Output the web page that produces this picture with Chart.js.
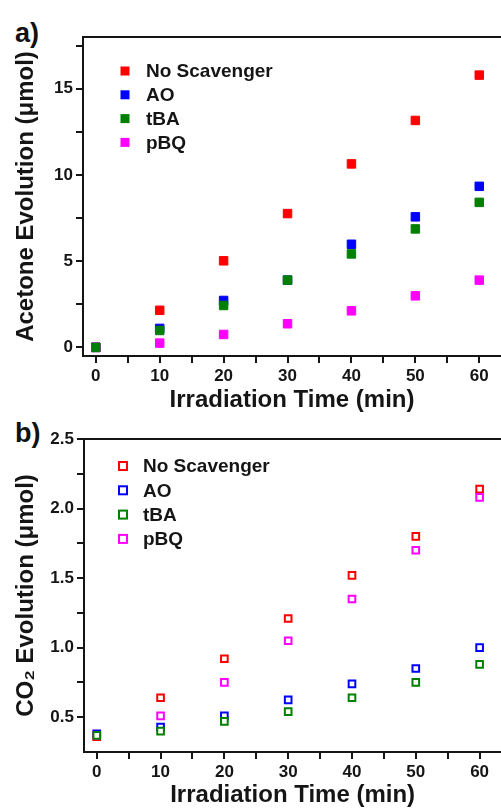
<!DOCTYPE html>
<html>
<head>
<meta charset="utf-8">
<script src="https://cdn.jsdelivr.net/npm/chart.js@4.4.1/dist/chart.umd.min.js"></script>
<style>
  html, body { margin: 0; padding: 0; background: #fff; overflow: hidden; }
  body { width: 501px; height: 809px; position: relative; font-family: Arial, "Liberation Sans", sans-serif; }
  .panel { position: absolute; left: 0; width: 508px; }
  .tag { position: absolute; font-weight: bold; font-size: 27px; color: #111; line-height: 1; }
</style>
</head>
<body>
<div class="tag" style="left:15px; top:20px;">a)</div>
<div class="tag" style="left:15px; top:420px;">b)</div>
<div class="panel" style="top:0; height:414px;"><canvas id="chartA"></canvas></div>
<div class="panel" style="top:410px; height:399px;"><canvas id="chartB"></canvas></div>
<script>
// data
const times = [0, 10, 20, 30, 40, 50, 60];
const seriesNames = ['No Scavenger', 'AO', 'tBA', 'pBQ'];
const seriesColors = ['#ff0000', '#0000ff', '#008000', '#ff00ff'];

// a) acetone (µmol)
const acetoneNoScav = [0, 2.15, 5.02, 7.76, 10.64, 13.16, 15.79];
const acetoneAO     = [0, 1.10, 2.72, 3.90, 5.98, 7.57, 9.34];
const acetoneTBA    = [0, 0.98, 2.43, 3.90, 5.42, 6.87, 8.41];
const acetonePBQ    = [0, 0.25, 0.75, 1.37, 2.12, 2.99, 3.90];

// b) CO2 (µmol)
const co2NoScav = [0.36, 0.64, 0.92, 1.21, 1.52, 1.80, 2.14];
const co2AO     = [0.38, 0.43, 0.51, 0.625, 0.74, 0.85, 1.00];
const co2TBA    = [0.37, 0.40, 0.47, 0.54, 0.64, 0.75, 0.88];
const co2PBQ    = [0.37, 0.51, 0.75, 1.05, 1.35, 1.70, 2.08];

// tick values (labels only on the major ones)
const xTicks = [0, 5, 10, 15, 20, 25, 30, 35, 40, 45, 50, 55, 60];
const acetoneTicks = [0, 2.5, 5, 7.5, 10, 12.5, 15, 17.5];
const co2Ticks = [0.5, 0.75, 1.0, 1.25, 1.5, 1.75, 2.0, 2.25, 2.5];

// green drawn on top, red at the bottom
const drawOrder = [3, 2, 0, 1];

const ink = '#151515';
const tickFont = { family: 'Arial, "Liberation Sans", sans-serif', size: 17, weight: 'bold' };
const titleFont = { family: 'Arial, "Liberation Sans", sans-serif', size: 24, weight: 'bold', lineHeight: 1 };

function makeSets(lists, hollow) {
  return lists.map((vals, i) => ({
    label: seriesNames[i],
    data: times.map((t, k) => ({ x: t, y: vals[k] })),
    pointStyle: 'rect',
    pointRadius: hollow ? 4.7 : 6,
    pointHoverRadius: hollow ? 4.7 : 6,
    borderWidth: hollow ? 2 : 1,
    borderColor: seriesColors[i],
    backgroundColor: hollow ? '#ffffff' : seriesColors[i],
    order: drawOrder[i]
  }));
}

// legend inside the plot + top frame line
const framePlugin = {
  id: 'frame',
  afterDraw(chart, args, opts) {
    const { ctx, chartArea } = chart;
    ctx.save();
    ctx.strokeStyle = ink;
    ctx.lineWidth = 2;
    ctx.beginPath();
    ctx.moveTo(chartArea.left, chartArea.top);
    ctx.lineTo(chartArea.right, chartArea.top);
    ctx.stroke();

    const lg = opts.legend;
    ctx.font = 'bold 19px Arial, "Liberation Sans", sans-serif';
    ctx.textBaseline = 'middle';
    ctx.fillStyle = ink;
    chart.data.datasets.forEach((ds, i) => {
      const cx = chartArea.left + lg.x;
      const cy = chartArea.top + lg.y + i * lg.dy;
      const s = lg.size;
      if (lg.hollow) {
        ctx.strokeStyle = ds.borderColor;
        ctx.lineWidth = 2;
        ctx.strokeRect(cx - s / 2, cy - s / 2, s, s);
      } else {
        ctx.fillStyle = ds.backgroundColor;
        ctx.fillRect(cx - s / 2, cy - s / 2, s, s);
      }
      ctx.fillStyle = ink;
      ctx.fillText(ds.label, cx + lg.gap, cy + 1);
    });
    ctx.restore();
  }
};

function makeChart(id, sets, yMin, yMax, yTicks, yLabel, yTitle, areaTop, axisW, axisH, legend, titlePad) {
  return new Chart(document.getElementById(id), {
    type: 'scatter',
    data: { datasets: sets },
    plugins: [framePlugin],
    options: {
      responsive: true,
      maintainAspectRatio: false,
      animation: false,
      layout: { padding: { top: areaTop, left: 0, right: 0, bottom: 0 } },
      plugins: {
        legend: { display: false },
        tooltip: { enabled: false },
        frame: { legend: legend }
      },
      scales: {
        x: {
          type: 'linear',
          min: -2,
          max: 63.4,
          afterBuildTicks: s => { s.ticks = xTicks.map(v => ({ value: v })); },
          afterFit: s => { s.height = axisH; },
          ticks: {
            color: ink, font: tickFont, padding: 3, maxRotation: 0, autoSkip: false,
            callback: v => (v % 10 === 0 ? String(v) : '')
          },
          grid: { drawOnChartArea: false, drawTicks: true, tickLength: 7, color: ink, lineWidth: 2 },
          border: { display: true, color: ink, width: 2 },
          title: { display: true, text: 'Irradiation Time (min)', color: ink, font: titleFont, padding: { top: 0, bottom: titlePad } }
        },
        y: {
          type: 'linear',
          min: yMin,
          max: yMax,
          afterBuildTicks: s => { s.ticks = yTicks.map(v => ({ value: v })); },
          afterFit: s => { s.width = axisW; },
          ticks: {
            color: ink, font: tickFont, padding: 3, autoSkip: false,
            callback: yLabel
          },
          grid: { drawOnChartArea: false, drawTicks: true, tickLength: 7, color: ink, lineWidth: 2 },
          border: { display: true, color: ink, width: 2 },
          title: { display: true, text: yTitle, color: ink, font: titleFont, padding: { top: 14, bottom: 0 } }
        }
      }
    }
  });
}

makeChart('chartA',
  makeSets([acetoneNoScav, acetoneAO, acetoneTBA, acetonePBQ], false),
  -0.5, 18, acetoneTicks,
  v => (v % 5 === 0 ? String(v) : ''),
  'Acetone Evolution (\u03bcmol)',
  37, 83, 414 - 356,
  { x: 42, y: 34, dy: 23.8, size: 9, gap: 21, hollow: false },
  2);

makeChart('chartB',
  makeSets([co2NoScav, co2AO, co2TBA, co2PBQ], true),
  0.25, 2.5, co2Ticks,
  v => (Math.abs(v * 2 - Math.round(v * 2)) < 1e-6 ? v.toFixed(1) : ''),
  'CO\u2082 Evolution (\u03bcmol)',
  29, 84, 399 - 342,
  { x: 39, y: 27, dy: 24.3, size: 8, gap: 20, hollow: true },
  1.5);
</script>
</body>
</html>
